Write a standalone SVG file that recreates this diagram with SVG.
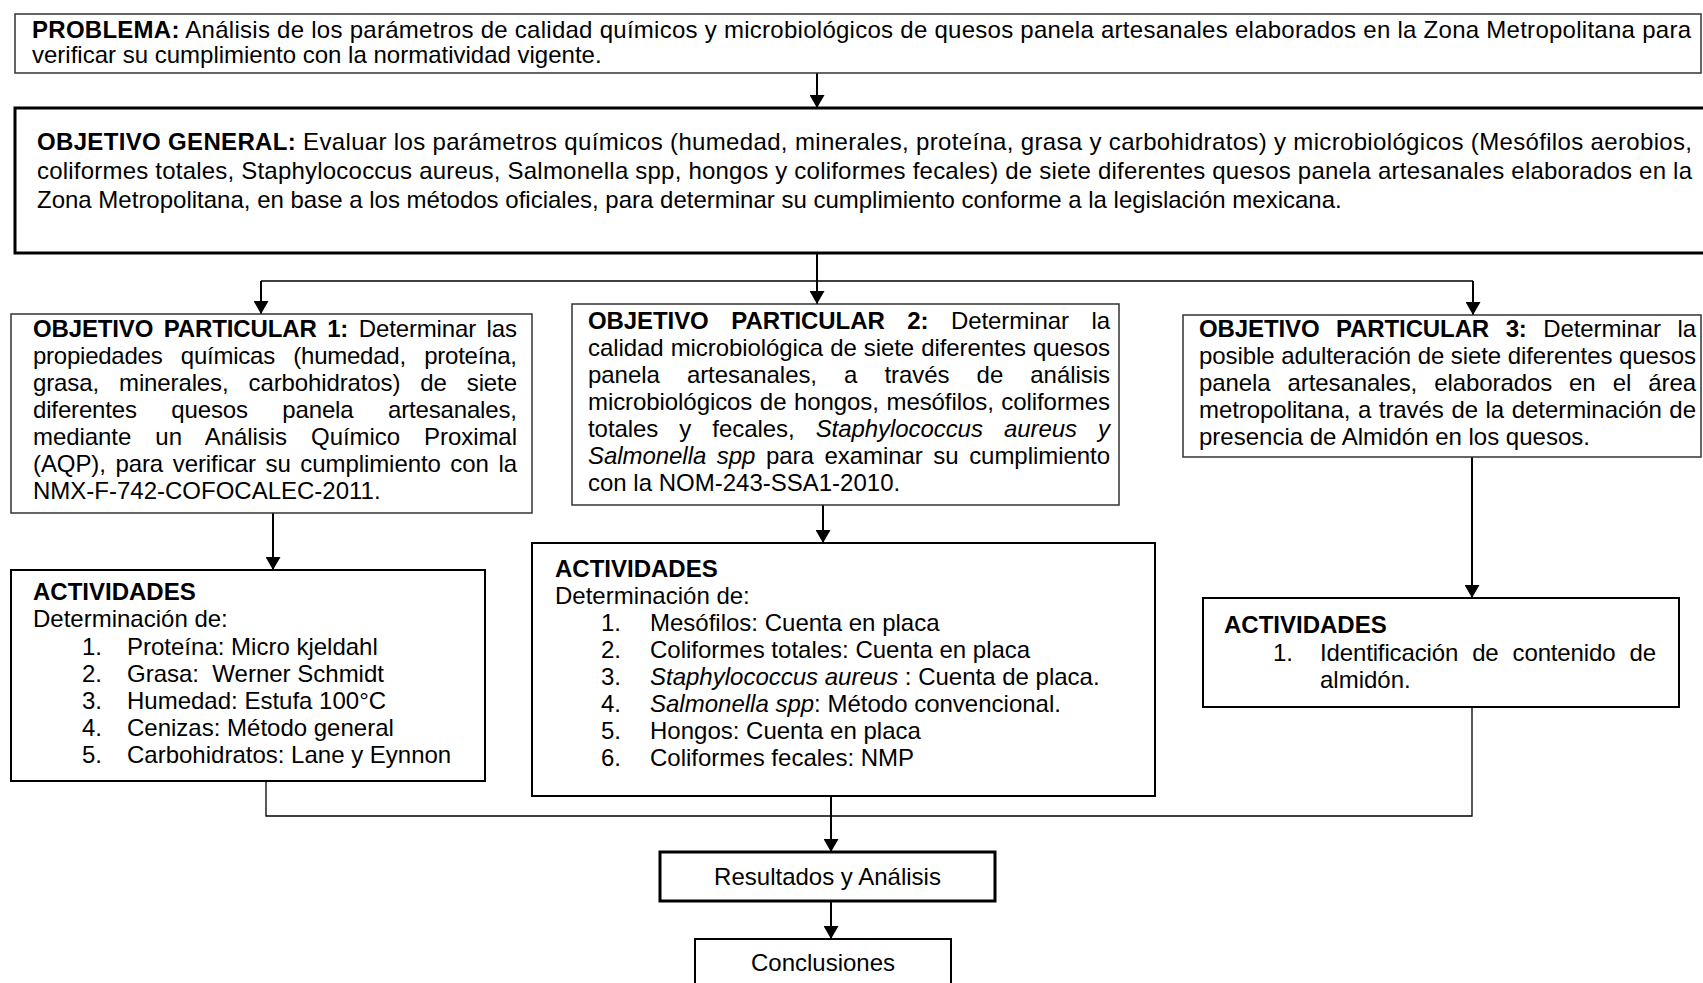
<svg xmlns="http://www.w3.org/2000/svg" width="1703" height="983" viewBox="0 0 1703 983">
<defs>
<style>
.t{font-family:"Liberation Sans",Arial,sans-serif;font-size:24px;fill:#000}
.b{font-weight:bold}
.i{font-style:italic}
.c{text-anchor:middle}
.pre{white-space:pre}
.bx1{fill:#fff;stroke:#333;stroke-width:1.5}
.bx2{fill:#fff;stroke:#000;stroke-width:2}
.bx3{fill:#fff;stroke:#000;stroke-width:3}
.cn{fill:none;stroke:#000;stroke-width:2}
.cnt{fill:none;stroke:#000;stroke-width:1.3}
</style>
<marker id="ah" viewBox="0 0 13 15" refX="13" refY="7.5" markerWidth="13" markerHeight="15" markerUnits="userSpaceOnUse" orient="auto">
<path d="M0,0 L13,7.5 L0,15 z" fill="#000"/>
</marker>
</defs>
<rect width="1703" height="983" fill="#fff"/>

<g id="connectors">
<line class="cn" x1="817" y1="73" x2="817" y2="108" marker-end="url(#ah)"/>
<line class="cn" x1="817" y1="253" x2="817" y2="304" marker-end="url(#ah)"/>
<polyline class="cnt" points="261,281 1473,281"/>
<line class="cn" x1="261" y1="281" x2="261" y2="314" marker-end="url(#ah)"/>
<line class="cn" x1="1473" y1="281" x2="1473" y2="315" marker-end="url(#ah)"/>
<line class="cn" x1="273" y1="513" x2="273" y2="570" marker-end="url(#ah)"/>
<line class="cn" x1="823" y1="505" x2="823" y2="543" marker-end="url(#ah)"/>
<line class="cn" x1="1472" y1="457" x2="1472" y2="598" marker-end="url(#ah)"/>
<polyline class="cnt" points="266,781 266,816 1472,816 1472,707"/>
<line class="cn" x1="831" y1="796" x2="831" y2="852" marker-end="url(#ah)"/>
<line class="cn" x1="831" y1="901" x2="831" y2="939" marker-end="url(#ah)"/>
</g>

<g id="problema">
<rect class="bx1" x="15" y="14" width="1686" height="59"/>
<text class="t" x="32" y="38" textLength="1659" lengthAdjust="spacing"><tspan class="b">PROBLEMA:</tspan> Análisis de los parámetros de calidad químicos y microbiológicos de quesos panela artesanales elaborados en la Zona Metropolitana para</text>
<text class="t" x="32" y="63">verificar su cumplimiento con la normatividad vigente.</text>
</g>

<g id="objetivo-general">
<rect class="bx3" x="15" y="108" width="1695" height="145"/>
<text class="t" x="37" y="150" textLength="1655" lengthAdjust="spacing"><tspan class="b">OBJETIVO GENERAL:</tspan> Evaluar los parámetros químicos (humedad, minerales, proteína, grasa y carbohidratos) y microbiológicos (Mesófilos aerobios,</text>
<text class="t" x="37" y="179" textLength="1655" lengthAdjust="spacing">coliformes totales, Staphylococcus aureus, Salmonella spp, hongos y coliformes fecales) de siete diferentes quesos panela artesanales elaborados en la</text>
<text class="t" x="37" y="208">Zona Metropolitana, en base a los métodos oficiales, para determinar su cumplimiento conforme a la legislación mexicana.</text>
</g>

<g id="objetivo-particular-1">
<rect class="bx1" x="11" y="314" width="521" height="199"/>
<text class="t" x="33" y="337" word-spacing="4" textLength="484" lengthAdjust="spacing"><tspan class="b">OBJETIVO PARTICULAR 1:</tspan> Determinar las</text>
<text class="t" x="33" y="364" word-spacing="12" textLength="484" lengthAdjust="spacing">propiedades químicas (humedad, proteína,</text>
<text class="t" x="33" y="391" word-spacing="13.5" textLength="484" lengthAdjust="spacing">grasa, minerales, carbohidratos) de siete</text>
<text class="t" x="33" y="418" word-spacing="28" textLength="484" lengthAdjust="spacing">diferentes quesos panela artesanales,</text>
<text class="t" x="33" y="445" word-spacing="17.5" textLength="484" lengthAdjust="spacing">mediante un Análisis Químico Proximal</text>
<text class="t" x="33" y="472" word-spacing="3" textLength="484" lengthAdjust="spacing">(AQP), para verificar su cumplimiento con la</text>
<text class="t" x="33" y="499">NMX-F-742-COFOCALEC-2011.</text>
</g>

<g id="objetivo-particular-2">
<rect class="bx1" x="572" y="304" width="547" height="201"/>
<text class="t" x="588" y="329" word-spacing="16" textLength="522" lengthAdjust="spacing"><tspan class="b">OBJETIVO PARTICULAR 2:</tspan> Determinar la</text>
<text class="t" x="588" y="356" word-spacing="0.5" textLength="522" lengthAdjust="spacing">calidad microbiológica de siete diferentes quesos</text>
<text class="t" x="588" y="383" word-spacing="20.5" textLength="522" lengthAdjust="spacing">panela artesanales, a través de análisis</text>
<text class="t" x="588" y="410" word-spacing="1" textLength="522" lengthAdjust="spacing">microbiológicos de hongos, mesófilos, coliformes</text>
<text class="t" x="588" y="437" word-spacing="14.5" textLength="522" lengthAdjust="spacing">totales y fecales, <tspan class="i">Staphylococcus aureus y</tspan></text>
<text class="t" x="588" y="464" word-spacing="4" textLength="522" lengthAdjust="spacing"><tspan class="i">Salmonella spp</tspan> para examinar su cumplimiento</text>
<text class="t" x="588" y="491">con la NOM-243-SSA1-2010.</text>
</g>

<g id="objetivo-particular-3">
<rect class="bx1" x="1183" y="315" width="518" height="142"/>
<text class="t" x="1199" y="337" word-spacing="10" textLength="497" lengthAdjust="spacing"><tspan class="b">OBJETIVO PARTICULAR 3:</tspan> Determinar la</text>
<text class="t" x="1199" y="364" word-spacing="0" textLength="497" lengthAdjust="spacing">posible adulteración de siete diferentes quesos</text>
<text class="t" x="1199" y="391" word-spacing="10.5" textLength="497" lengthAdjust="spacing">panela artesanales, elaborados en el área</text>
<text class="t" x="1199" y="418" word-spacing="1" textLength="497" lengthAdjust="spacing">metropolitana, a través de la determinación de</text>
<text class="t" x="1199" y="445">presencia de Almidón en los quesos.</text>
</g>

<g id="actividades-1">
<rect class="bx2" x="11" y="570" width="474" height="211"/>
<text class="t b" x="33" y="600">ACTIVIDADES</text>
<text class="t" x="33" y="627">Determinación de:</text>
<text class="t" x="82" y="655">1.</text><text class="t" x="127" y="655">Proteína: Micro kjeldahl</text>
<text class="t" x="82" y="682">2.</text><text class="t pre" x="127" y="682">Grasa:  Werner Schmidt</text>
<text class="t" x="82" y="709">3.</text><text class="t" x="127" y="709">Humedad: Estufa 100°C</text>
<text class="t" x="82" y="736">4.</text><text class="t" x="127" y="736">Cenizas: Método general</text>
<text class="t" x="82" y="763">5.</text><text class="t" x="127" y="763">Carbohidratos: Lane y Eynnon</text>
</g>

<g id="actividades-2">
<rect class="bx2" x="532" y="543" width="623" height="253"/>
<text class="t b" x="555" y="577">ACTIVIDADES</text>
<text class="t" x="555" y="604">Determinación de:</text>
<text class="t" x="601" y="631">1.</text><text class="t" x="650" y="631">Mesófilos: Cuenta en placa</text>
<text class="t" x="601" y="658">2.</text><text class="t" x="650" y="658">Coliformes totales: Cuenta en placa</text>
<text class="t" x="601" y="685">3.</text><text class="t" x="650" y="685"><tspan class="i">Staphylococcus aureus</tspan> : Cuenta de placa.</text>
<text class="t" x="601" y="712">4.</text><text class="t" x="650" y="712"><tspan class="i">Salmonella spp</tspan>: Método convencional.</text>
<text class="t" x="601" y="739">5.</text><text class="t" x="650" y="739">Hongos: Cuenta en placa</text>
<text class="t" x="601" y="766">6.</text><text class="t" x="650" y="766">Coliformes fecales: NMP</text>
</g>

<g id="actividades-3">
<rect class="bx2" x="1203" y="598" width="476" height="109"/>
<text class="t b" x="1224" y="633">ACTIVIDADES</text>
<text class="t" x="1273" y="661">1.</text>
<text class="t" x="1320" y="661" word-spacing="7.5" textLength="336" lengthAdjust="spacing">Identificación de contenido de</text>
<text class="t" x="1320" y="688">almidón.</text>
</g>

<g id="resultados">
<rect class="bx3" x="660" y="852" width="335" height="49"/>
<text class="t c" x="827.5" y="885">Resultados y Análisis</text>
</g>

<g id="conclusiones">
<rect class="bx2" x="695" y="939" width="256" height="55"/>
<text class="t c" x="823" y="971">Conclusiones</text>
</g>
</svg>
